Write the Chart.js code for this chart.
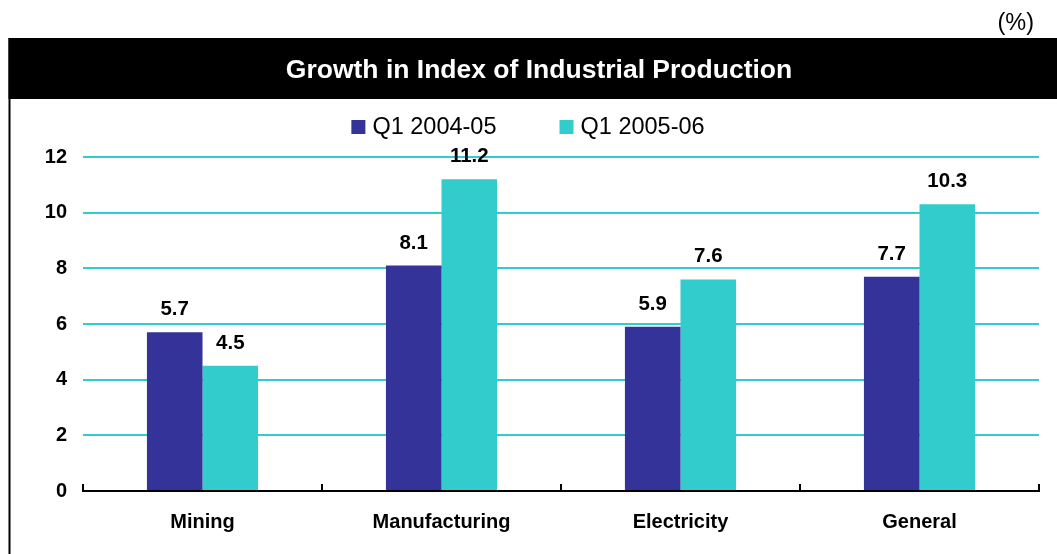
<!DOCTYPE html>
<html>
<head>
<meta charset="utf-8">
<script src="https://cdn.jsdelivr.net/npm/chart.js@4"></script>
<style>
  html, body { margin: 0; padding: 0; background: #ffffff; }
  #wrap { width: 1057px; height: 554px; position: relative; }
</style>
</head>
<body>
<div id="wrap"><canvas id="c" width="1057" height="554"></canvas></div>
<script>
// ---- Data ----
const categories = ['Mining', 'Manufacturing', 'Electricity', 'General'];
const seriesNames = ['Q1 2004-05', 'Q1 2005-06'];
const q1_2004_05 = [5.7, 8.1, 5.9, 7.7];
const q1_2005_06 = [4.5, 11.2, 7.6, 10.3];
const yMin = 0, yMax = 12, yStep = 2;
const titleText = 'Growth in Index of Industrial Production';
const unitText = '(%)';

// ---- Styles ----
const DARK = '#333399';
const CYAN = '#33CCCC';
const FONT = '"Liberation Sans", Arial, Helvetica, sans-serif';

const decor = {
  id: 'decor',
  beforeDraw(chart) {
    const ctx = chart.ctx;
    ctx.save();
    ctx.fillStyle = '#000';
    ctx.fillRect(8.5, 38, chart.width - 8.5, 61);
    ctx.fillRect(8.5, 38, 2, chart.height - 38);
    ctx.restore();
  },
  afterDatasetsDraw(chart) {
    const ctx = chart.ctx;
    ctx.save();
    ctx.fillStyle = '#000';
    ctx.font = 'bold 20.5px ' + FONT;
    ctx.textAlign = 'center';
    ctx.textBaseline = 'alphabetic';
    chart.data.datasets.forEach((ds, di) => {
      const meta = chart.getDatasetMeta(di);
      meta.data.forEach((bar, i) => {
        ctx.fillText(ds.data[i].toFixed(1), bar.x, bar.y - 17);
      });
    });
    ctx.restore();
  },
  afterDraw(chart) {
    const ctx = chart.ctx;
    ctx.save();
    // title
    ctx.fillStyle = '#fff';
    ctx.font = 'bold 26.5px ' + FONT;
    ctx.textAlign = 'center';
    ctx.textBaseline = 'alphabetic';
    ctx.fillText(titleText, 539, 78);
    // unit
    ctx.fillStyle = '#000';
    ctx.font = '23.5px ' + FONT;
    ctx.textAlign = 'right';
    ctx.fillText(unitText, 1034, 30);
    // legend
    ctx.textAlign = 'left';
    const box = 14, gapText = 7, gapItem = 63;
    const widths = chart.data.datasets.map(d => ctx.measureText(d.label).width);
    const total = widths.reduce((a, w) => a + box + gapText + w, 0) + gapItem * (widths.length - 1);
    let x = 528 - total / 2;
    chart.data.datasets.forEach((d, i) => {
      ctx.fillStyle = d.backgroundColor;
      ctx.fillRect(x, 120, box, box);
      ctx.fillStyle = '#000';
      ctx.fillText(d.label, x + box + gapText, 134);
      x += box + gapText + widths[i] + gapItem;
    });
    // x-axis tick marks at category boundaries (pointing up)
    const xs = chart.scales.x;
    const n = chart.data.labels.length;
    const bottom = chart.chartArea.bottom;
    ctx.strokeStyle = '#000';
    ctx.lineWidth = 2;
    const half = (xs.getPixelForValue(1) - xs.getPixelForValue(0)) / 2;
    for (let i = 0; i <= n; i++) {
      const px = i < n ? xs.getPixelForValue(i) - half : xs.getPixelForValue(n - 1) + half;
      ctx.beginPath();
      ctx.moveTo(px, bottom - 7);
      ctx.lineTo(px, bottom + 1);
      ctx.stroke();
    }
    ctx.restore();
  }
};

new Chart(document.getElementById('c'), {
  type: 'bar',
  data: {
    labels: categories,
    datasets: [
      { label: seriesNames[0], data: q1_2004_05, backgroundColor: DARK, borderWidth: 0 },
      { label: seriesNames[1], data: q1_2005_06, backgroundColor: CYAN, borderWidth: 0 }
    ]
  },
  options: {
    responsive: false,
    animation: false,
    devicePixelRatio: 1,
    layout: { padding: { top: 157, right: 18, left: 0, bottom: 0 } },
    datasets: { bar: { categoryPercentage: 0.465, barPercentage: 1.0 } },
    plugins: {
      legend: { display: false },
      title: { display: false },
      tooltip: { enabled: false }
    },
    scales: {
      x: {
        offset: true,
        grid: { display: false, drawTicks: false },
        border: { display: true, color: '#000', width: 2 },
        ticks: { color: '#000', font: { family: FONT, size: 20, weight: 'bold' }, padding: 19, maxRotation: 0 },
        afterFit(scale) { scale.height = 63; }
      },
      y: {
        min: yMin, max: yMax,
        grid: {
          drawTicks: false,
          lineWidth: 2,
          color: (c) => (c.tick && c.tick.value === 0) ? 'rgba(0,0,0,0)' : CYAN
        },
        border: { display: false },
        ticks: { stepSize: yStep, color: '#000', font: { family: FONT, size: 20, weight: 'bold' }, padding: 16 },
        afterFit(scale) { scale.width = 83; }
      }
    }
  },
  plugins: [decor]
});
</script>
</body>
</html>
